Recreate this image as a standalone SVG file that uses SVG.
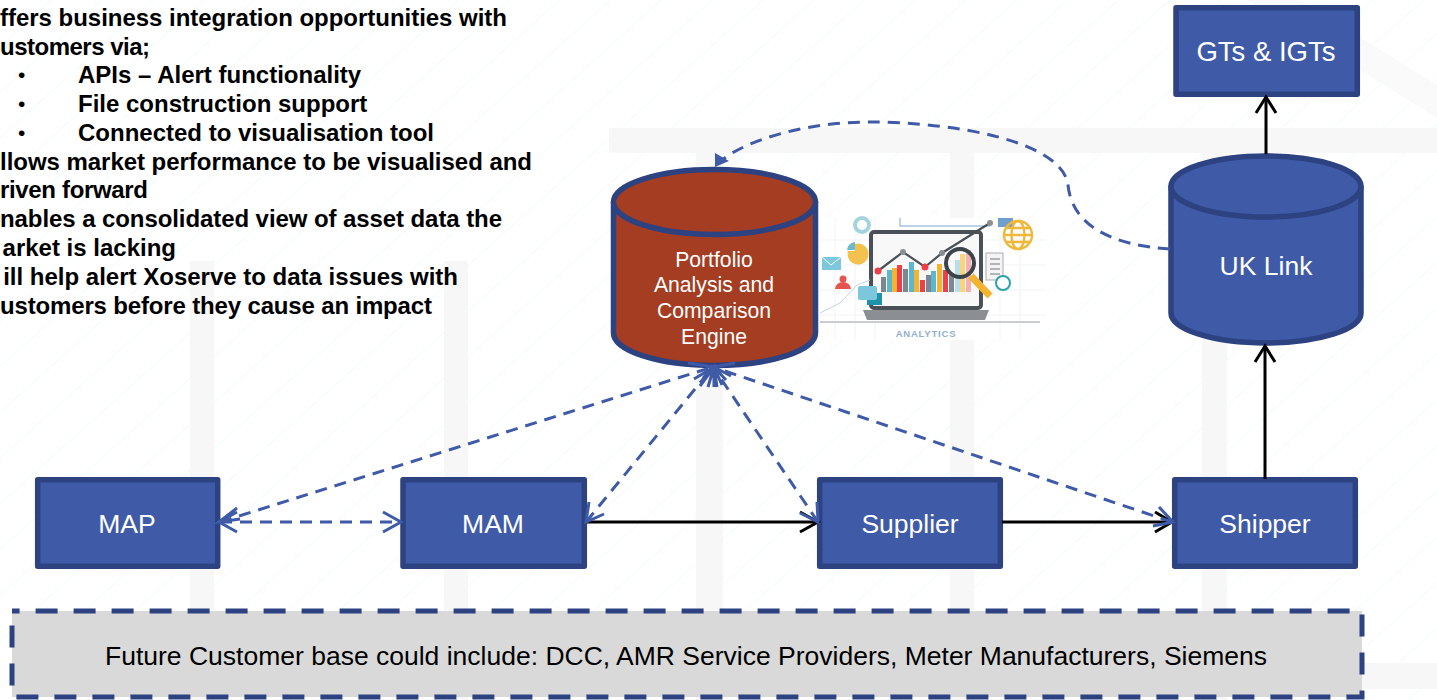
<svg xmlns="http://www.w3.org/2000/svg" width="1437" height="700" viewBox="0 0 1437 700">
<defs>
<pattern id="hatch" width="34" height="34" patternUnits="userSpaceOnUse" patternTransform="rotate(48)">
<path d="M0 0V34" stroke="#effafa" stroke-width="1.6"/>
</pattern>
</defs>
<style>
text{font-family:"Liberation Sans",Arial,sans-serif}
.band{fill:#f7f7f7}
.bullet{font-size:24px;font-weight:bold;fill:#000}
.end{text-anchor:end}
.dot{font-size:21px;fill:#000}
.node{fill:#3f5ba8;stroke:#2d4281;stroke-width:5.5;stroke-linejoin:round}
.red{fill:#a43d21}
.lbl{font-size:26.5px;fill:#fff;text-anchor:middle}
.sm{font-size:21.2px;fill:#fff;text-anchor:middle}
.solid{fill:none;stroke:#000;stroke-width:3}
.dash{fill:none;stroke:#3f5ba8;stroke-width:3;stroke-dasharray:12 8}
.head{fill:none;stroke:#3f5ba8;stroke-width:3}
</style>
<rect width="1437" height="700" fill="#fff"/>
<g id="background">
<rect width="1437" height="700" fill="url(#hatch)"/>
<rect class="band" x="190" y="261" width="24" height="439"/>
<rect class="band" x="444" y="261" width="24" height="439"/>
<rect class="band" x="696" y="153" width="27" height="547"/>
<rect class="band" x="950" y="153" width="24" height="547"/>
<rect class="band" x="1202" y="153" width="25" height="547"/>
<rect class="band" x="609" y="128" width="828" height="25"/>
<rect class="band" x="1340" y="663" width="97" height="26"/>
<polygon points="1247,0 1300,0 1437,85 1437,118" fill="#fafafa"/>
</g>
<g id="description">
<text class="bullet" x="0" y="26" textLength="507">ffers business integration opportunities with</text>
<text class="bullet" x="0" y="55" textLength="150">ustomers via;</text>
<text class="dot" x="18" y="82">•</text><text class="bullet" x="78" y="83">APIs – Alert functionality</text>
<text class="dot" x="18" y="111">•</text><text class="bullet" x="78" y="112">File construction support</text>
<text class="dot" x="18" y="140">•</text><text class="bullet" x="78" y="141">Connected to visualisation tool</text>
<text class="bullet" x="0" y="170" textLength="532">llows market performance to be visualised and</text>
<text class="bullet" x="0" y="198" textLength="148">riven forward</text>
<text class="bullet" x="0" y="227" textLength="502">nables a consolidated view of asset data the</text>
<text class="bullet end" x="176" y="256">arket is lacking</text>
<text class="bullet end" x="458" y="285">ill help alert Xoserve to data issues with</text>
<text class="bullet" x="0" y="314" textLength="432">ustomers before they cause an impact</text>
</g>
<g id="analytics-image">
<rect x="818" y="218" width="230" height="122" fill="#fff"/>
<path d="M820 240H1046M820 265H1046M820 290H1046M820 315H1046M835 218V340M855 218V340M875 218V340M1000 218V340M1020 218V340" fill="none" stroke="#f1f3f5"/>
<path d="M900 218V226H990" fill="none" stroke="#a9c3de" stroke-width="1.5"/>
<rect x="998" y="218" width="15" height="9" fill="#6f9fd0"/>
<rect x="871" y="232" width="110" height="76" rx="3" fill="#f8f8f9" stroke="#4a5058" stroke-width="4"/>
<path d="M863 310H989L985 320H867Z" fill="#8b8f94"/>
<path d="M820 322H1040" stroke="#c9ccd0" stroke-width="2"/>
<rect x="881" y="277" width="5" height="15" fill="#7d8791"/><rect x="887" y="270" width="5" height="22" fill="#5ab7d2"/><rect x="892" y="268" width="5" height="24" fill="#f2b431"/><rect x="897" y="265" width="5" height="27" fill="#ec3f47"/><rect x="903" y="269" width="5" height="23" fill="#7d8791"/><rect x="909" y="262" width="5" height="30" fill="#5ab7d2"/><rect x="914" y="270" width="5" height="22" fill="#f2b431"/><rect x="920" y="280" width="5" height="12" fill="#ec3f47"/><rect x="926" y="275" width="5" height="17" fill="#7d8791"/><rect x="931" y="271" width="5" height="21" fill="#5ab7d2"/><rect x="937" y="264" width="5" height="28" fill="#f2b431"/><rect x="943" y="270" width="5" height="22" fill="#ec3f47"/><rect x="949" y="275" width="5" height="17" fill="#7d8791"/><rect x="955" y="260" width="5" height="32" fill="#b8dfe9"/><rect x="960" y="254" width="5" height="38" fill="#f9d47c"/><rect x="966" y="250" width="5" height="42" fill="#f5b0b0"/>
<path d="M878 271L903 252L925 267L942 253L990 223" fill="none" stroke="#4a5058" stroke-width="2.2"/>
<g fill="#ec3f47"><circle cx="878" cy="271" r="3.5"/><circle cx="925" cy="267" r="3.5"/></g>
<g fill="#8b8f94"><circle cx="903" cy="252" r="3"/><circle cx="942" cy="253" r="3"/><circle cx="990" cy="223" r="3"/></g>
<circle cx="960" cy="263" r="14" fill="none" stroke="#3c434b" stroke-width="4"/>
<path d="M971 276L990 296" stroke="#f2b431" stroke-width="7"/>
<g fill="none" stroke="#f0b83a" stroke-width="2.4"><circle cx="1018" cy="235" r="14"/><ellipse cx="1018" cy="235" rx="6.5" ry="14"/><path d="M1004 235H1032M1006 228H1030M1006 242H1030"/></g>
<circle cx="862" cy="225" r="7" fill="none" stroke="#a4d4de" stroke-width="4"/>
<path d="M855 244a10.500 10.500 0 1 1 -7 7H855Z" fill="#f2c14e"/>
<path d="M847 250a9 9 0 0 1 8 -8V250Z" fill="#6bbad3"/>
<rect x="822" y="257" width="19" height="13" fill="#7cc7dc"/>
<path d="M822 257L831 265L841 257" fill="none" stroke="#fff"/>
<circle cx="843" cy="279" r="3.500" fill="#e5554f"/>
<path d="M835 289a8 7 0 0 1 16 0Z" fill="#e5554f"/>
<path d="M820 313L840 303L857 285L870 280" fill="none" stroke="#c5d4e4"/>
<rect x="867" y="293" width="15" height="12" fill="#1d92a8"/>
<rect x="858" y="286" width="19" height="14" rx="2" fill="#7cc7dc"/>
<rect x="986" y="253" width="17" height="27" fill="#f4f4f4" stroke="#a8acb0"/>
<path d="M990 259H1000M990 264H1000M990 269H1000M990 274H1000" stroke="#70757a"/>
<circle cx="1003" cy="283" r="7" fill="#fff" stroke="#2aa1ad" stroke-width="2"/>
<text x="926" y="337" font-size="9.500" font-weight="bold" fill="#8fb0d0" text-anchor="middle" letter-spacing="0.8">ANALYTICS</text>
</g>
<g id="gts-igts"><rect class="node" x="1176" y="7.700" width="181.300" height="86.600"/><text class="lbl" x="1266" y="61" style="font-size:27.5px">GTs &amp; IGTs</text></g>
<g id="uk-link">
<path class="node" d="M1171 187V313A95 30 0 0 0 1361 313V187Z"/>
<ellipse class="node" cx="1266" cy="186.500" rx="95" ry="30.500"/>
<text class="lbl" x="1266" y="275">UK Link</text>
</g>
<g id="portfolio">
<path class="node red" d="M613.500 202V333A101 32.500 0 0 0 815.500 333V202Z"/>
<ellipse class="node red" cx="714.500" cy="202" rx="101" ry="32.500"/>
<text class="sm" x="714" y="267">Portfolio</text>
<text class="sm" x="714" y="292">Analysis and</text>
<text class="sm" x="714" y="318">Comparison</text>
<text class="sm" x="714" y="344">Engine</text>
</g>
<g id="map"><rect class="node" x="37.700" y="479.700" width="180" height="86.600"/><text class="lbl" x="127" y="533">MAP</text></g>
<g id="mam"><rect class="node" x="403" y="479.700" width="181.300" height="86.600"/><text class="lbl" x="493" y="533">MAM</text></g>
<g id="supplier"><rect class="node" x="819.700" y="479.700" width="180.600" height="86.600"/><text class="lbl" x="910" y="533">Supplier</text></g>
<g id="shipper"><rect class="node" x="1174.700" y="479.700" width="180.600" height="86.600"/><text class="lbl" x="1265" y="533">Shipper</text></g>
<g id="future">
<rect x="12" y="611" width="1350" height="86" fill="#d9d9d9" stroke="#2d4281" stroke-width="5" stroke-dasharray="22 16" stroke-dashoffset="14.400"/>
<text x="686" y="665" font-size="26.500" text-anchor="middle" fill="#000">Future Customer base could include: DCC, AMR Service Providers, Meter Manufacturers, Siemens</text>
</g>
<g id="connectors">
<path class="solid" d="M1266 154V97"/>
<path class="solid" d="M1256 113L1266 97L1276 113"/>
<path class="solid" d="M1265 479V346"/>
<path class="solid" d="M1255 362L1265 346L1275 362"/>
<path class="solid" d="M586 522H817"/>
<path class="solid" d="M800 512L818 522L800 532"/>
<path class="solid" d="M1002 522H1172"/>
<path class="solid" d="M1155 512L1172 522L1155 532"/>
<path class="dash" d="M1170 249C1110 245 1072 225 1068 185C1062 140 950 122 870 122C810 122 750 138 722 160"/>
<path d="M715 153L729 161L715 167Z" fill="#3f5ba8"/>
<path class="dash" d="M220 522L713 367"/>
<path class="dash" d="M220 522H400"/>
<path class="dash" d="M586 522L713 367"/>
<path class="dash" d="M818 522L713 367"/>
<path class="dash" d="M1172 522L713 367"/>
<path class="head" d="M237 508L219 522L240 519"/>
<path class="head" d="M237 512L219 522L237 532"/>
<path class="head" d="M383 512L401 522L383 532"/>
<path class="head" d="M589 502L586 522L604 514"/>
<path class="head" d="M800 513L818 522L817 502"/>
<path class="head" d="M1159 507L1173 522L1153 526"/>
<path class="head" d="M688 363L714 367L703 378M694 379L714 367L708 387M700 386L714 367L717 387M714 387V367M722 385L714 367L731 376M726 380L714 367L735 363"/>
</g>
</svg>
